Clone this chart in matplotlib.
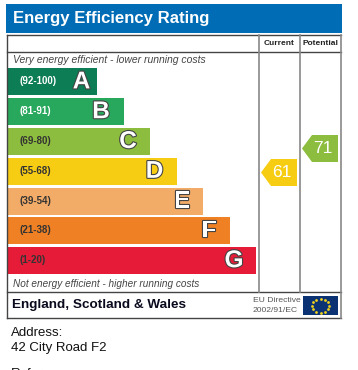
import matplotlib
matplotlib.use('Agg')
import matplotlib.pyplot as plt
import matplotlib.patheffects as pe
from matplotlib.patches import Polygon, Rectangle

bands = ['A', 'B', 'C', 'D', 'E', 'F', 'G']
ranges = ['(92-100)', '(81-91)', '(69-80)', '(55-68)', '(39-54)', '(21-38)', '(1-20)']
bar_lengths = [89.5, 116.5, 143, 169.5, 196, 222.5, 249]
colours = ['#0c7d55', '#28a85c', '#8dbd3e', '#f7cd14', '#f2ac67', '#ef8023', '#e51b38']
range_colours = ['white', 'white', '#333333', '#333333', '#333333', '#333333', '#333333']
current = 61
potential = 71
current_colour = '#f7cd14'
potential_colour = '#8dbd3e'

plt.rcParams['font.family'] = ['Liberation Sans', 'DejaVu Sans']

# whole figure is one axes in pixel coords
fig = plt.figure(figsize=(3.58, 3.70), dpi=100, facecolor='white')
ax = fig.add_axes([0, 0, 1, 1])
ax.set_xlim(0, 358)
ax.set_ylim(370, 0)
ax.axis('off')

# title strip
ax.add_patch(Rectangle((6, 4), 336, 29, color='#006cb5', lw=0))
ax.text(13, 18, 'Energy Efficiency Rating', color='white', fontsize=12.05, fontweight='bold', va='center')

# frame
dark = '#444444'
grey = '#888888'
ax.plot([6.5, 6.5], [35, 318], color=dark, lw=1)
ax.plot([6.5, 341], [34.5, 34.5], color=dark, lw=1)
ax.plot([6.5, 341], [51.5, 51.5], color=dark, lw=1)
ax.plot([6.5, 341], [292, 292], color=dark, lw=1)
ax.plot([6.5, 341], [318, 318], color=dark, lw=1)
ax.plot([259, 259], [35, 292], color=grey, lw=1.2)
ax.plot([300, 300], [35, 292], color=grey, lw=1.2)
ax.plot([341, 341], [35, 318], color=grey, lw=1.2)

ax.text(279.5, 43.5, 'Current', color='#222222', fontsize=6, fontweight='bold', ha='center', va='center')
ax.text(320.5, 43.5, 'Potential', color='#222222', fontsize=6, fontweight='bold', ha='center', va='center')

ax.text(13, 60, 'Very energy efficient - lower running costs', color='#444444', fontsize=7.5, style='italic', va='center')
ax.text(13, 284, 'Not energy efficient - higher running costs', color='#444444', fontsize=7.2, style='italic', va='center')

# rating bars
ys = [81.9 + 29.8 * i for i in range(len(bands))]
ax.barh(ys, bar_lengths, height=27, left=7, color=colours, lw=0)

# letters don't sit at a fixed distance from the bar end
letter_inset = [15, 22.5, 22, 22, 21, 20.5, 22]
for y, w, band, rng, rc, inset in zip(ys, bar_lengths, bands, ranges, range_colours, letter_inset):
    ax.text(19, y - 0.5, rng, color=rc, fontsize=7, fontweight='bold', va='center')
    ax.text(7 + w - inset, y, band, color='white', fontsize=17.5, fontweight='bold', ha='center', va='center',
            path_effects=[pe.withStroke(linewidth=1.6, foreground='#444444')])


def add_arrow(left, y, value, colour):
    """Score tag pointing left, y is its centre"""
    pts = [(left, y), (left + 10, y - 13.5), (left + 36, y - 13.5), (left + 36, y + 13.5), (left + 10, y + 13.5)]
    ax.add_patch(Polygon(pts, closed=True, color=colour, lw=0))
    ax.text(left + 21, y, str(value), color='white', fontsize=12.5, ha='center', va='center')


add_arrow(261, 172.5, current, current_colour)
add_arrow(302, 148.5, potential, potential_colour)

# footer
ax.text(12, 305, 'England, Scotland & Wales', color='#0a0a1e', fontsize=9.7, fontweight='bold', va='center')
ax.text(253, 301, 'EU Directive', color='#555555', fontsize=6.1, va='center')
ax.text(253, 310.5, '2002/91/EC', color='#555555', fontsize=6.1, va='center')

# eu flag
ax.add_patch(Rectangle((303, 296), 35, 19, color='#0b3272', lw=0))
star_x = [320.5, 325, 328, 329, 328, 325, 320.5, 316, 313, 312, 313, 316]
star_y = [298.5, 299.5, 302, 305.5, 309, 311.5, 312.5, 311.5, 309, 305.5, 302, 299.5]
ax.scatter(star_x, star_y, s=4, color='#f2d21b', marker='o', lw=0)

# address below the chart
ax.text(11, 332.5, 'Address:', color='#111111', fontsize=9.5, va='center')
ax.text(11, 348.5, '42 City Road F2', color='#111111', fontsize=9.5, va='center')
ax.text(11, 374, 'Reference:', color='#111111', fontsize=9.5, va='center')

fig.savefig('out.png', dpi=100, facecolor='white')
